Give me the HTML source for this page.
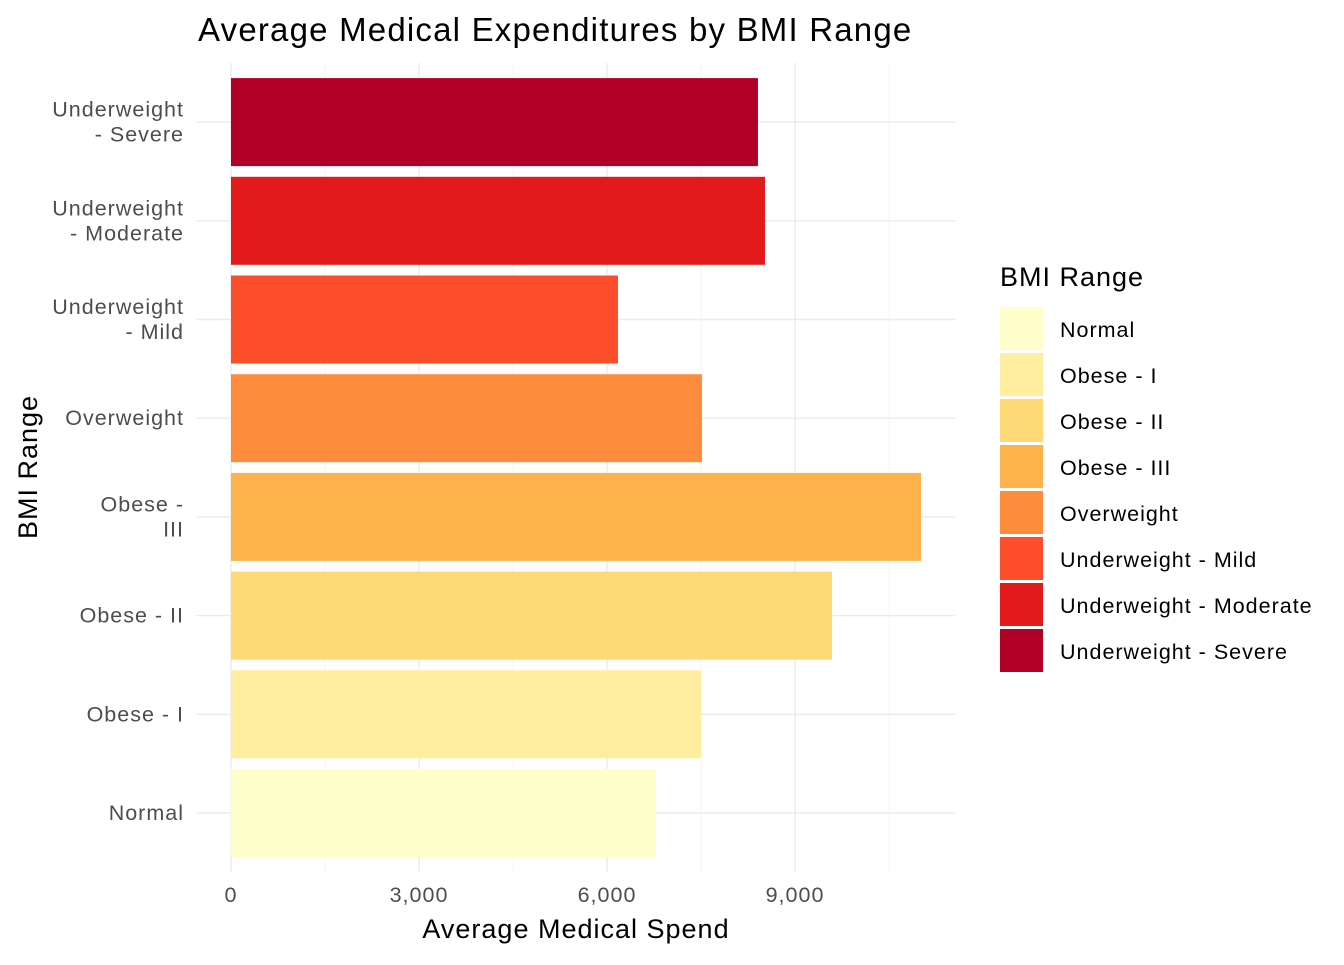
<!DOCTYPE html>
<html><head><meta charset="utf-8"><style>
body{margin:0;background:#fff;font-family:"Liberation Sans",sans-serif}
svg text{font-family:"Liberation Sans",sans-serif}
</style></head><body>
<svg id="chart" width="1344" height="960" viewBox="0 0 1344 960"></svg>
<script>
const categories=["Normal","Obese - I","Obese - II","Obese - III","Overweight","Underweight - Mild","Underweight - Moderate","Underweight - Severe"];
const axisLabels=[["Normal"],["Obese - I"],["Obese - II"],["Obese -","III"],["Overweight"],["Underweight","- Mild"],["Underweight","- Moderate"],["Underweight","- Severe"]];
const values=[6782,7500,9590,11010,7516,6175,8521,8409];
const colors=["#FFFFCC","#FFEDA0","#FED976","#FEB24C","#FD8D3C","#FC4E2A","#E31A1C","#B10026"];
const xTicks=[0,3000,6000,9000];
const xTickLabels=["0","3,000","6,000","9,000"];
const svg=document.getElementById('chart');
const NS="http://www.w3.org/2000/svg";
function el(t,a,p){const e=document.createElementNS(NS,t);for(const k in a)e.setAttribute(k,a[k]);(p||svg).appendChild(e);return e;}
const x0=231,k=188/3000;
const xs=v=>x0+v*k;
const maxV=Math.max(...values);
const pl=xs(-0.05*maxV), pr=xs(maxV*1.05);
const step=98.7, yBottom=813;
const ys=i=>yBottom-i*step;
const pt=ys(categories.length-1)-0.6*step, pb=ys(0)+0.6*step;
for(let i=0;i<xTicks.length;i++){
  const g=el('line',{x1:xs(xTicks[i]),x2:xs(xTicks[i]),y1:pt,y2:pb,stroke:'#ebebeb','stroke-width':1.4});
  
  const m=xTicks[i]+1500;
  if(xs(m)<pr){const mg=el('line',{x1:xs(m),x2:xs(m),y1:pt,y2:pb,stroke:'#f3f3f3','stroke-width':0.8});
  }
  const t=el('text',{x:xs(xTicks[i]),y:902,'text-anchor':'middle','font-size':21.5,'letter-spacing':1,fill:'#4d4d4d'});
  t.textContent=xTickLabels[i];
  
}
categories.forEach((c,i)=>{
  const g=el('line',{x1:pl,x2:pr,y1:ys(i),y2:ys(i),stroke:'#ebebeb','stroke-width':1.4});
  
});
categories.forEach((c,i)=>{
  const h=88;
  const r=el('rect',{x:xs(0),y:ys(i)-h/2,width:xs(values[i])-xs(0),height:h,fill:colors[i]});
  
  
  const lines=axisLabels[i];
  const t=el('text',{x:183,'text-anchor':'end','font-size':21.5,'letter-spacing':1,fill:'#4d4d4d'});
  
  lines.forEach((ln,j)=>{const s=el('tspan',{x:184,y:ys(i)+7+(j-(lines.length-1)/2)*25},t);s.textContent=ln;});
});
let t=el('text',{x:198,y:41,'font-size':33,'letter-spacing':1.2,fill:'#000'});t.textContent='Average Medical Expenditures by BMI Range';

t=el('text',{x:576,y:938,'text-anchor':'middle','font-size':27,'letter-spacing':1,fill:'#000'});t.textContent='Average Medical Spend';

t=el('text',{x:37,y:467,'text-anchor':'middle','font-size':27,'letter-spacing':1,fill:'#000',transform:'rotate(-90 37 467)'});t.textContent='BMI Range';

t=el('text',{x:1000,y:286,'font-size':27,'letter-spacing':1,fill:'#000'});t.textContent='BMI Range';

categories.forEach((c,i)=>{
  const r=el('rect',{x:1000,y:307+i*46,width:43,height:43,fill:colors[i]});
  
  const l=el('text',{x:1060,y:337+i*46,'font-size':21.5,'letter-spacing':1,fill:'#000'});l.textContent=c;
  
});
</script>
</body></html>
